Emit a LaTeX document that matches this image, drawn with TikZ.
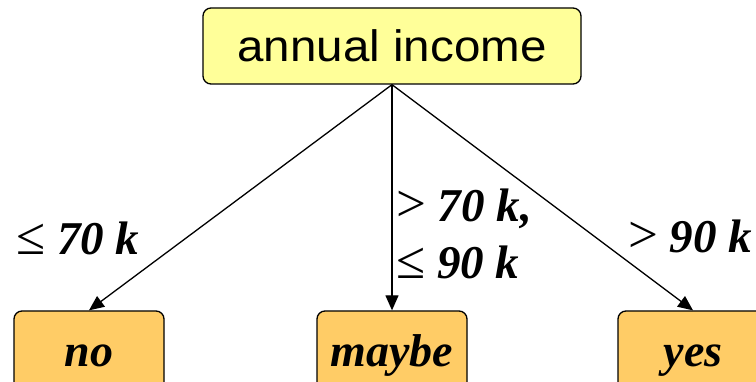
\documentclass[tikz,border=0pt]{standalone}
\usepackage{fontspec}
\setmainfont{Liberation Serif}
\newfontfamily\arialfont{Liberation Sans}
\usetikzlibrary{arrows.meta}
\definecolor{topfill}{HTML}{FFFF99}
\definecolor{leaffill}{HTML}{FFCC66}
\tikzset{
  rootbox/.style={draw=black, line width=1.3pt, fill=topfill, rounded corners=8pt,
    minimum width=378pt, minimum height=76pt, inner sep=0pt,
    font=\arialfont\fontsize{44}{48}\selectfont},
  leafbox/.style={draw=black, line width=1.3pt, fill=leaffill, rounded corners=8pt,
    minimum width=150pt, minimum height=90pt, inner sep=0pt,
    text height=32pt, text depth=10pt,
    font=\fontsize{46}{50}\selectfont\bfseries\itshape},
  edgelabel/.style={inner sep=0pt, anchor=base west,
    font=\fontsize{47}{50}\selectfont\bfseries\itshape},
  branch/.style={line width=1.3pt, -{Triangle[length=15pt,width=13pt]}}
}
\newcommand{\relsym}[1]{{\normalfont\fontsize{53}{56}\selectfont #1}}
\begin{document}
\begin{tikzpicture}[x=1pt,y=-1pt]
\useasboundingbox (0,0) rectangle (756,382);
\node[rootbox] (root) at (392,46) {\scalebox{1.08}[1]{annual income}};
\node[leafbox] (no) at (89,356) {no};
\node[leafbox] (maybe) at (392,356) {maybe};
\node[leafbox] (yes) at (693,356) {yes};
\draw[branch] (root.south) -- (no.north);
\draw[branch] (root.south) -- (maybe.north);
\draw[branch] (root.south) -- (yes.north);
\node[edgelabel] (l1) at (16,255) {\relsym{≤} 70 k};
\node[edgelabel] (l2) at (396,222) {\relsym{>} 70 k,};
\node[edgelabel] (l3) at (396,279) {\relsym{≤} 90 k};
\node[edgelabel] (l4) at (628,253) {\relsym{>} 90 k};
\end{tikzpicture}
\end{document}
